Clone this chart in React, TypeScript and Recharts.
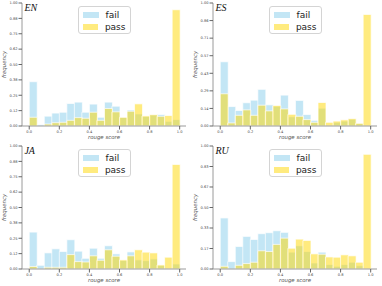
import React from "react";
import { BarChart, Bar, XAxis, YAxis, Legend, Label } from "recharts";

// histogram bin centres (20 bins of width 0.05 over [0, 1])
const binCenters = [
  0.025, 0.075, 0.125, 0.175, 0.225, 0.275, 0.325, 0.375, 0.425, 0.475,
  0.525, 0.575, 0.625, 0.675, 0.725, 0.775, 0.825, 0.875, 0.925, 0.975,
];

const xTicks = [0, 0.2, 0.4, 0.6, 0.8, 1.0];

const enFail = [0.36, 0.01, 0.08, 0.105, 0.112, 0.183, 0.194, 0.112, 0.178, 0.071, 0.194, 0.161, 0.07, 0.13, 0.098, 0.078, 0.09, 0.093, 0.038, 0.052];
const enPass = [0.071, 0, 0.016, 0.027, 0.03, 0.046, 0.068, 0.063, 0.112, 0.046, 0.142, 0.115, 0.071, 0.12, 0.18, 0.082, 0.092, 0.079, 0.085, 0.945];

const esFail = [0.522, 0.158, 0.126, 0.189, 0.21, 0.298, 0.172, 0.16, 0.251, 0.075, 0.208, 0.093, 0.046, 0.145, 0, 0.03, 0.04, 0.055, 0.02, 0];
const esPass = [0.262, 0.025, 0.087, 0.131, 0.087, 0.169, 0.123, 0.167, 0.139, 0.095, 0.079, 0.052, 0.03, 0.191, 0.03, 0.04, 0.05, 0.06, 0.022, 0.907];

const jaFail = [0.3, 0.03, 0.131, 0.164, 0.142, 0.238, 0.145, 0.087, 0.169, 0.087, 0.189, 0.123, 0.07, 0.139, 0.074, 0.068, 0.082, 0.03, 0, 0.041];
const jaPass = [0.02, 0, 0.014, 0.014, 0.014, 0.117, 0.06, 0.057, 0.107, 0.071, 0.156, 0.104, 0.074, 0.107, 0.156, 0.137, 0.131, 0.033, 0.096, 0.85];

const ruFail = [0.415, 0.06, 0.183, 0.265, 0.24, 0.287, 0.295, 0.311, 0.298, 0.137, 0.189, 0.142, 0.049, 0.137, 0.036, 0.022, 0.036, 0.055, 0.027, 0];
const ruPass = [0.022, 0, 0.03, 0.044, 0.055, 0.148, 0.142, 0.2, 0.251, 0.169, 0.243, 0.232, 0.123, 0.12, 0.098, 0.096, 0.115, 0.107, 0.055, 0.932];

// y ticks: 8ths, 7ths, 6ths
const yTicks8 = [0, 0.125, 0.25, 0.375, 0.5, 0.625, 0.75, 0.875, 1];
const yLabels8 = ["0.00", "0.12", "0.25", "0.38", "0.50", "0.62", "0.75", "0.88", "1.00"];
const yTicks7 = [0, 0.1429, 0.2857, 0.4286, 0.5714, 0.7143, 0.8571, 1];
const yLabels7 = ["0.00", "0.14", "0.29", "0.43", "0.57", "0.71", "0.86", "1.00"];
const yTicks6 = [0, 0.1667, 0.3333, 0.5, 0.6667, 0.8333, 1];
const yLabels6 = ["0.00", "0.17", "0.33", "0.50", "0.67", "0.83", "1.00"];

const FAIL = "rgba(135,206,235,0.5)";
const PASS = "rgba(255,215,0,0.5)";
const SPINE = "#9a9a9a";
const FONT = "DejaVu Sans";

const W = 191;
const H = 143;

function LegendBox(props: any) {
  const payload = props.payload || [];
  return (
    <div
      style={{
        width: 53,
        height: 28,
        boxSizing: "border-box",
        border: "0.8px solid #d4d4d4",
        borderRadius: 3,
        background: "rgba(255,255,255,0.8)",
        padding: "2px 4px",
      }}
    >
      {payload.map((entry: any) => (
        <div key={entry.value} style={{ display: "flex", alignItems: "center", height: 12 }}>
          <span style={{ width: 16, height: 5.5, background: entry.color, display: "inline-block" }} />
          <span style={{ marginLeft: 7, fontSize: 9, fontFamily: FONT, color: "#222", lineHeight: "12px" }}>
            {entry.value}
          </span>
        </div>
      ))}
    </div>
  );
}

function Panel({ title, fail, pass, yTicks, yLabels, left, top }: any) {
  const data = binCenters.map((x, i) => ({ x, fail: fail[i], pass: pass[i] }));
  return (
    <div style={{ position: "absolute", left, top, width: W, height: H }}>
      <BarChart
        width={W}
        height={H}
        data={data}
        margin={{ top: 3, right: 5, bottom: 0, left: 0 }}
        barCategoryGap={0}
        barGap={0}
      >
        <XAxis
          xAxisId="b"
          dataKey="x"
          type="number"
          domain={[-0.048, 1.042]}
          ticks={xTicks}
          interval={0}
          tickFormatter={(v: number) => v.toFixed(1)}
          height={17}
          tickSize={3.5}
          tickMargin={1}
          stroke={SPINE}
          tickLine={{ stroke: "#666" }}
          tick={{ fontSize: 3.6, fill: "#444", fontFamily: FONT }}
        >
          <Label
            value="rouge score"
            position="insideBottom"
            offset={4}
            style={{ fontSize: 5.4, fontStyle: "italic", fill: "#555", fontFamily: FONT }}
          />
        </XAxis>
        <XAxis
          xAxisId="t"
          dataKey="x"
          type="number"
          orientation="top"
          domain={[-0.048, 1.042]}
          height={0}
          tick={false}
          tickLine={false}
          stroke={SPINE}
        />
        <YAxis
          type="number"
          domain={[0, 1]}
          ticks={yTicks}
          interval={0}
          tickFormatter={(_v: number, i: number) => yLabels[i]}
          width={22}
          tickSize={3.5}
          tickMargin={1}
          stroke={SPINE}
          tickLine={{ stroke: "#666" }}
          tick={{ fontSize: 3.6, fill: "#444", fontFamily: FONT }}
        >
          <Label
            content={(p: any) => {
              const vb = p.viewBox;
              const cx = vb.x + 4;
              const cy = vb.y + vb.height / 2;
              return (
                <g>
                  <text
                    x={cx}
                    y={cy}
                    transform={`rotate(-90 ${cx} ${cy})`}
                    textAnchor="middle"
                    dominantBaseline="central"
                    fontSize={5.4}
                    fontStyle="italic"
                    fontFamily={FONT}
                    fill="#555"
                  >
                    frequency
                  </text>
                  <text
                    x={vb.x + vb.width + 2.4}
                    y={vb.y + 8}
                    fontSize={10}
                    fontStyle="italic"
                    fontFamily="Liberation Serif"
                    fill="#111"
                  >
                    {title}
                  </text>
                </g>
              );
            }}
          />
        </YAxis>
        <YAxis
          yAxisId="r"
          type="number"
          orientation="right"
          domain={[0, 1]}
          width={0}
          tick={false}
          tickLine={false}
          stroke={SPINE}
        />
        <Legend
          layout="vertical"
          align="center"
          verticalAlign="middle"
          content={<LegendBox />}
          wrapperStyle={{ left: 104 - 26.5, top: 6 }}
        />
        <Bar
          name="fail"
          dataKey="fail"
          xAxisId="b"
          fill={FAIL}
          stroke="#fff"
          strokeWidth={0.7}
          isAnimationActive={false}
        />
        <Bar
          name="pass"
          dataKey="pass"
          xAxisId="t"
          fill={PASS}
          stroke="#fff"
          strokeWidth={0.7}
          isAnimationActive={false}
        />
      </BarChart>
    </div>
  );
}

export default function App() {
  return (
    <div style={{ position: "absolute", left: 0, top: 0, width: 382, height: 286, background: "#fff" }}>
      <Panel title="EN" fail={enFail} pass={enPass} yTicks={yTicks8} yLabels={yLabels8} left={0} top={0} />
      <Panel title="ES" fail={esFail} pass={esPass} yTicks={yTicks7} yLabels={yLabels7} left={191} top={0} />
      <Panel title="JA" fail={jaFail} pass={jaPass} yTicks={yTicks8} yLabels={yLabels8} left={0} top={143} />
      <Panel title="RU" fail={ruFail} pass={ruPass} yTicks={yTicks6} yLabels={yLabels6} left={191} top={143} />
    </div>
  );
}
